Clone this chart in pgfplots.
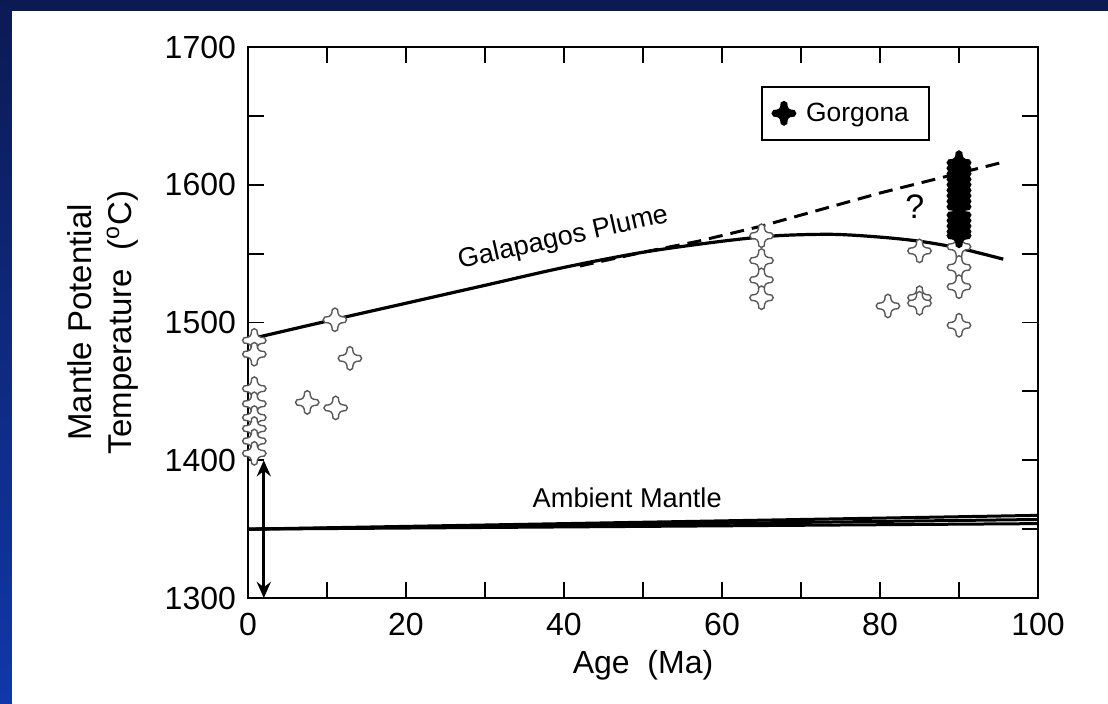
\documentclass[border=0pt]{standalone}
\usepackage{pgfplots}
\pgfplotsset{compat=1.18}
\usepackage{fontspec}
\setmainfont{Liberation Sans}
\usetikzlibrary{arrows.meta}
\definecolor{navy}{RGB}{12,26,84}
\definecolor{slideblue}{RGB}{16,56,170}

\newcommand\pp[2]{\pgfqpoint{#1\pgfplotmarksize}{#2\pgfplotmarksize}}
\pgfdeclareplotmark{astar}{%
  \pgfpathmoveto{\pp{-0.22}{0.85}}%
  \pgfpathcurveto{\pp{-0.12}{1.02}}{\pp{0.12}{1.02}}{\pp{0.22}{0.85}}%
  \pgfpathcurveto{\pp{0.25}{0.35}}{\pp{0.35}{0.25}}{\pp{0.85}{0.22}}%
  \pgfpathcurveto{\pp{1.02}{0.12}}{\pp{1.02}{-0.12}}{\pp{0.85}{-0.22}}%
  \pgfpathcurveto{\pp{0.35}{-0.25}}{\pp{0.25}{-0.35}}{\pp{0.22}{-0.85}}%
  \pgfpathcurveto{\pp{0.12}{-1.02}}{\pp{-0.12}{-1.02}}{\pp{-0.22}{-0.85}}%
  \pgfpathcurveto{\pp{-0.25}{-0.35}}{\pp{-0.35}{-0.25}}{\pp{-0.85}{-0.22}}%
  \pgfpathcurveto{\pp{-1.02}{-0.12}}{\pp{-1.02}{0.12}}{\pp{-0.85}{0.22}}%
  \pgfpathcurveto{\pp{-0.35}{0.25}}{\pp{-0.25}{0.35}}{\pp{-0.22}{0.85}}%
  \pgfpathclose
  \pgfusepathqfillstroke
}

\begin{document}
\begin{tikzpicture}
\useasboundingbox (0,0) rectangle (554pt,351.5pt);
\fill[navy] (0,0) rectangle (554pt,351.5pt);
\shade[top color=navy, bottom color=slideblue] (0,0) rectangle (6pt,351.5pt);
\fill[white] (6pt,0) rectangle (554pt,346pt);
\begin{axis}[
  at={(124pt,52.5pt)}, anchor=south west,
  scale only axis, width=395pt, height=275.5pt,
  xmin=0, xmax=100, ymin=1300, ymax=1700,
  xtick={0,20,...,100}, minor xtick={10,30,...,90},
  ytick={1300,1400,...,1700}, minor ytick={1350,1450,...,1650},
  tick align=inside, major tick length=8pt, minor tick length=8pt,
  every tick/.style={black, line width=0.9pt},
  axis line style={line width=1.1pt},
  ticklabel style={font=\fontsize{16}{19}\selectfont},
  xticklabel style={yshift=-4pt},
  yticklabel style={xshift=-2.5pt},
  /pgf/number format/assume math mode=true,
  /pgf/number format/1000 sep={},
  xlabel={Age\ \ (Ma)},
  xlabel style={at={(axis description cs:0.5,-0.1216)}, anchor=center, font=\fontsize{16}{19}\selectfont},
  ylabel={Mantle Potential\\Temperature\ \ (\textsuperscript{o}C)},
  ylabel style={at={(axis description cs:-0.1835,0.5)}, anchor=center, align=center, font=\fontsize{16.5}{20}\selectfont},
  legend style={at={(axis description cs:0.649,0.93)}, anchor=north west, draw=black, line width=1pt, font=\fontsize{13.2}{16}\selectfont, inner xsep=5pt, inner ysep=6pt, nodes={inner xsep=5pt}},
  legend cell align=left,
]
% open symbols
\addplot[only marks, mark=astar, mark size=6pt, mark options={draw=black!65, fill=white, line width=0.7pt}, forget plot] table {
x y
0.8 1487
0.8 1477
0.8 1452
0.8 1441
0.8 1431
0.8 1423
0.8 1414
0.8 1405
7.5 1442
11.1 1438
11 1502
12.9 1474
65 1563
65 1545
65 1531
65 1518
81 1512
85 1552
85 1518
85 1514
90 1555
90 1540
90 1526
90 1498
};
% ambient mantle
\addplot[line width=1.5pt, forget plot] coordinates {(0,1350) (100,1360)};
\addplot[line width=1.5pt, forget plot] coordinates {(0,1350) (100,1357)};
\addplot[line width=1.5pt, forget plot] coordinates {(0,1350) (100,1354)};
% plume
\addplot[line width=1.6pt, smooth, forget plot] coordinates {
(1,1489) (10,1501) (20,1514) (30,1527) (40,1540) (50,1551) (60,1559) (67,1563) (74,1564) (80,1562) (85,1559) (90,1554) (95.6,1546)};
\addplot[line width=1.5pt, dash pattern=on 7pt off 4pt, forget plot] coordinates {
(42,1541) (50,1551) (57,1559) (65,1570) (80,1594) (96,1617)};
% arrow
\addplot[line width=1.6pt, {Stealth[length=8pt,width=7pt]}-{Stealth[length=8pt,width=7pt]}, forget plot] coordinates {(2,1300) (2,1400)};
% Gorgona
\addplot[only marks, mark=astar, mark size=6pt, mark options={draw=black, fill=black, line width=0.7pt}] table {
x y
90 1616
90 1612
90 1608
90 1604
90 1600
90 1596
90 1592
90 1588
90 1584
90 1578
90 1574
90 1570
90 1566
90 1563
};
\addlegendentry{Gorgona}
\node[rotate=12.7, font=\fontsize{13.5}{16}\selectfont] at (axis cs:39.9,1561) {Galapagos Plume};
\node[font=\fontsize{13.6}{16}\selectfont] at (axis cs:48,1373) {Ambient Mantle};
\node[font=\fontsize{17}{20}\selectfont] at (axis cs:84.4,1584) {?};
\end{axis}
\end{tikzpicture}
\end{document}
